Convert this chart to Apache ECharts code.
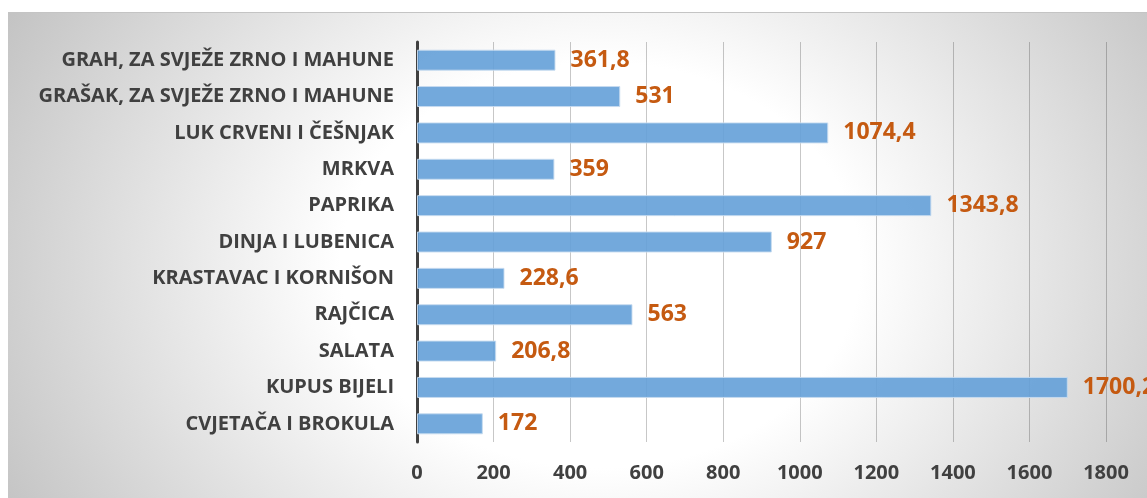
<!DOCTYPE html>
<html>
<head>
<meta charset="utf-8">
<script src="https://cdn.jsdelivr.net/npm/echarts@6/dist/echarts.min.js"></script>
<style>
  html, body { margin: 0; padding: 0; background: #fff; }
  #wrap { position: relative; width: 1147px; height: 498px; overflow: hidden; }
  #bg {
    position: absolute; left: 8px; top: 12px; right: 0; bottom: 0;
    border-top: 1px solid #c4c4c4;
    background: radial-gradient(ellipse 60% 110% at 52% 52%, #ffffff 0%, #ffffff 38%, #c2c2c2 100%);
  }
  #chart { position: absolute; left: 0; top: 0; width: 1147px; height: 498px; }
</style>
</head>
<body>
<div id="wrap">
  <div id="bg"></div>
  <div id="chart"></div>
</div>
<script>
// categories from bottom to top (category axis starts at the bottom)
var categories = [
    'CVJETAČA I BROKULA',
    'KUPUS BIJELI',
    'SALATA',
    'RAJČICA',
    'KRASTAVAC I KORNIŠON',
    'DINJA I LUBENICA',
    'PAPRIKA',
    'MRKVA',
    'LUK CRVENI I ČEŠNJAK',
    'GRAŠAK, ZA SVJEŽE ZRNO I MAHUNE',
    'GRAH, ZA SVJEŽE ZRNO I MAHUNE'
];
var values = [172, 1700.2, 206.8, 563, 228.6, 927, 1343.8, 359, 1074.4, 531, 361.8];
var axisMin = 0;
var axisMax = 1800;
var axisStep = 200;

var fontFamily = "'Open Sans', sans-serif";

var myChart = echarts.init(document.getElementById('chart'));

let option = {
    animation: false,
    backgroundColor: 'transparent',
    grid: {
        left: 417,
        right: 41,
        top: 42,
        bottom: 56,
        containLabel: false
    },
    xAxis: {
        type: 'value',
        min: axisMin,
        max: axisMax,
        interval: axisStep,
        axisLine: { show: false },
        axisTick: { show: false },
        splitLine: { lineStyle: { color: 'rgba(0,0,0,0.22)', width: 1 } },
        axisLabel: {
            margin: 21,
            color: '#404040',
            fontFamily: fontFamily,
            fontWeight: 'bold',
            fontSize: 20,
            formatter: function (v) { return String(v); }
        }
    },
    yAxis: {
        type: 'category',
        data: categories,
        axisLine: { show: true, lineStyle: { color: '#404040', width: 3 } },
        axisTick: { show: false },
        axisLabel: {
            margin: 23,
            color: '#404040',
            fontFamily: fontFamily,
            fontWeight: 'bold',
            fontSize: 20
        }
    },
    series: [
        {
            type: 'bar',
            data: values,
            barWidth: 21,
            itemStyle: {
                color: 'rgba(100,160,216,0.9)',
                borderColor: 'rgba(200,220,240,0.9)',
                borderWidth: 1
            },
            label: {
                show: true,
                position: 'right',
                distance: 15,
                color: '#c55a11',
                fontFamily: fontFamily,
                fontWeight: 'bold',
                fontSize: 23,
                formatter: function (p) {
                    return String(p.value).replace('.', ',');
                }
            }
        }
    ]
};

myChart.setOption(option);
</script>
</body>
</html>
